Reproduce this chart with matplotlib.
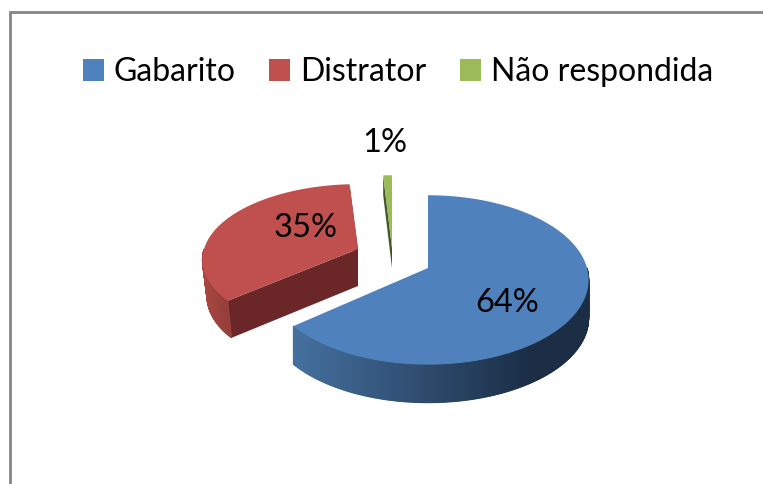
import numpy as np
import matplotlib
matplotlib.use("Agg")
import matplotlib.pyplot as plt
from matplotlib.colors import to_rgb
from matplotlib.patches import Patch

# slices of the pie, clockwise from 12 o'clock
labels = ['Gabarito', 'Distrator', 'Não respondida']
values = [64, 35, 1]
pct_labels = ['64%', '35%', '1%']

colours = ['#4f81bd', '#c0504d', '#9bbb59']
cut_colours = ['#1c3350', '#6b2727', '#465527']
wall_left = ['#45709f', '#a8463f', '#465527']
wall_right = ['#1b2e46', '#97403b', '#465527']

# apex x, apex y, x radius, y radius, depth, taper of the lower rim
geom = [(428, 268, 159, 83, 38, 1.0),
        (358, 249, 154, 74, 37, 0.97),
        (392, 248, 160, 83, 20, 1.0)]
pct_pos = [(507, 303), (306, 228), (385, 143)]
K = 0.141  # perspective, far side of the pie looks smaller


def project(th, r, g, depth=0):
    # th is degrees clockwise from the top
    ax_, ay, rx, ry, d, taper = g
    u = np.sin(np.radians(th)) * r
    v = np.cos(np.radians(th)) * r
    s = 1 / (1 + K * v)
    sc = taper if depth else 1
    return ax_ + rx * u * s * sc, ay - ry * v * s + depth


fig = plt.figure(figsize=(7.63, 4.84), dpi=100)
ax = fig.add_axes([0, 0, 1, 1])
ax.set_xlim(0, 763)
ax.set_ylim(484, 0)
ax.axis('off')

# chart border, only left and top are visible
ax.plot([10, 10, 763], [484, 12, 12], color='#868686', lw=2.0, solid_joinstyle='miter')

edges = np.concatenate([[0], np.cumsum(values)]) / sum(values) * 360

for i in [1, 2, 0]:
    g = geom[i]
    t1, t2 = edges[i], edges[i + 1]
    d = g[4]

    # flat cut faces going down from the apex
    for t in (t1, t2):
        x, y = project(t, 1, g)
        xb, yb = project(t, 1, g, d)
        if i == 0 and t == t2:
            continue
        ax.fill([g[0], x, xb, g[0]], [g[1], y, yb, g[1] + d],
                color=cut_colours[i], lw=0, zorder=2)

    # outer wall, only the part facing us, in thin strips for the shading
    th = np.arange(max(t1, 90), min(t2, 270), 0.4)
    th = np.append(th, min(t2, 270))
    c0, c1 = np.array(to_rgb(wall_left[i])), np.array(to_rgb(wall_right[i]))
    xs = np.array([project(t, 1, g)[0] for t in th])
    if len(th) > 1:
        for a, b in zip(th[:-1], th[1:]):
            xa, ya = project(a, 1, g)
            xb, yb = project(b, 1, g)
            xa2, ya2 = project(a, 1, g, d)
            xb2, yb2 = project(b, 1, g, d)
            f = (xa - xs.min()) / (xs.max() - xs.min())
            f = min(f / 0.8, 1)
            ax.fill([xa, xb, xb2, xa2], [ya, yb, yb2, ya2], color=c0 + (c1 - c0) * f,
                    lw=0.8, zorder=2)

    # top face
    th = np.linspace(t1, t2, 200)
    x, y = project(th, 1, g)
    ax.fill(np.r_[g[0], x], np.r_[g[1], y], color=colours[i], lw=0, zorder=3)

for i in range(3):
    ax.text(pct_pos[i][0], pct_pos[i][1], pct_labels[i], ha='center', va='center',
            family='Lato', fontsize=23.5, color='black', zorder=5)

handles = [Patch(color=c, lw=0) for c in colours]
ax.legend(handles, labels, loc='center', bbox_to_anchor=(398 / 763, 1 - 72 / 484),
          ncol=3, frameon=False, prop={'family': 'Lato', 'size': 23},
          handlelength=0.66, handleheight=0.66, handletextpad=0.3, columnspacing=1.06,
          borderpad=0, borderaxespad=0)

fig.savefig('out.png', dpi=100)
